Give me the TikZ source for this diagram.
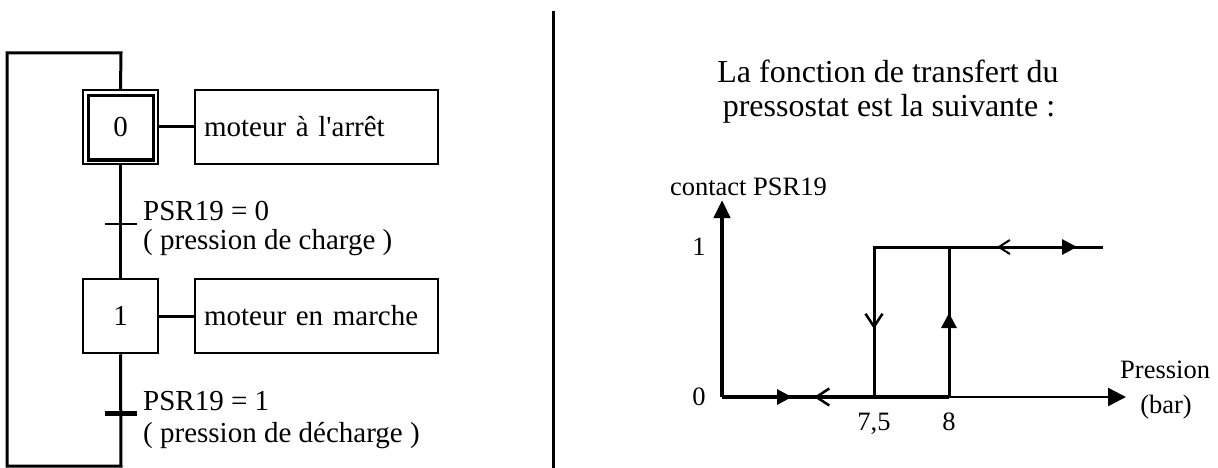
\documentclass[tikz,border=0pt]{standalone}
\usepackage{fontspec}
\setmainfont{Liberation Serif}
\usetikzlibrary{arrows.meta}

\tikzset{
  txt/.style={font=\fontsize{29}{34}\selectfont, inner sep=0pt},
  lbl/.style={font=\fontsize{26.5}{30}\selectfont, inner sep=0pt},
  ttl/.style={font=\fontsize{32}{34}\selectfont, inner sep=0pt, align=center},
  stepbox/.style={draw, line width=2.5pt, minimum width=75pt, minimum height=74pt,
                  inner sep=0pt, font=\fontsize{29}{34}\selectfont},
  actbox/.style={draw, line width=2.5pt, minimum height=74pt, text width=225pt,
                 inner xsep=9pt, align=left, font=\fontsize{29}{34}\selectfont},
  link/.style={line width=3pt},
  thinbar/.style={line width=2.5pt},
  thickbar/.style={line width=5pt},
  axis/.style={line width=4.5pt},
  curve/.style={line width=3pt},
  fullhead/.style={-{Triangle[length=15pt,width=15pt]}},
  openhead/.style={-{Straight Barb[length=13pt,width=17pt,line width=2.5pt]}},
}

\begin{document}
\begin{tikzpicture}[x=1pt,y=-1pt]
\useasboundingbox (0,0) rectangle (1218,468);

% ---------------- Grafcet ----------------
\node[stepbox, line width=2pt] (s0) at (120.5,127) {0};
\draw[line width=3pt] ([shift={(6pt,-7pt)}]s0.north west) rectangle ([shift={(-6pt,5pt)}]s0.south east);
\node[stepbox] (s1) at (120.5,316) {1};

\node[actbox] (a0) at (316.5,127) {moteur à l\textquotesingle arrêt};
\node[actbox] (a1) at (316.5,316) {moteur en marche};

\draw[link] (s0.east) -- (a0.west);
\draw[link] (s1.east) -- (a1.west);

\coordinate (t1) at (121,224);
\coordinate (t2) at (121,413);
\draw[link] (s0.south) -- (s1.north);
\draw[thinbar] ([xshift=-16pt]t1) -- ([xshift=16pt]t1);
\draw[thickbar] ([xshift=-16pt]t2) -- ([xshift=16pt]t2);

\coordinate (lb) at (121,466);
\coordinate (lbl) at (7,466);
\coordinate (ltl) at (7,53);
\coordinate (lt) at (121,53);
\draw[link] (s1.south) -- (lb) -- (lbl) -- (ltl) -- (lt) -- (s0.north);

\node[txt, anchor=base west] (r1a) at (143,220) {PSR19 = 0};
\node[txt, anchor=base west] (r1b) at (143,249) {( pression de charge )};
\node[txt, anchor=base west] (r2a) at (143,410) {PSR19 = 1};
\node[txt, anchor=base west] (r2b) at (143,442) {( pression de décharge )};

% ---------------- separator ----------------
\coordinate (sepT) at (553,11);
\coordinate (sepB) at (553,468);
\draw[line width=3pt] (sepT) -- (sepB);

% ---------------- transfer function ----------------
\node[ttl, anchor=base] (title1) at (888,83) {La fonction de transfert du};
\node[ttl, anchor=base] (title2) at (889,117) {pressostat est la suivante :};

\coordinate (O) at (722,397);
\coordinate (ytip) at (722,200);
\coordinate (xtip) at (1126,397);
\coordinate (A) at (874,397);
\coordinate (B) at (949,397);
\coordinate (C) at (874,247);
\coordinate (D) at (949,247);
\coordinate (E) at (1103,247);

\draw[axis, -{Triangle[length=18pt,width=16pt]}] (O) -- (ytip);
\draw[line width=4pt] (O) -- (B);
\draw[line width=2.5pt, -{Triangle[length=18pt,width=18pt]}] (B) -- (xtip);
\draw[curve] (A) -- (C) -- (E);
\draw[curve] (B) -- (D);

% direction marks along the hysteresis loop
\draw[line width=3pt, fullhead] (775,397) -- (792,397);
\draw[openhead] (830,397) -- (814,397);
\draw[openhead] (874,310) -- (874,329);
\draw[line width=3pt, fullhead] (949,335) -- (949,313);
\draw[-{Straight Barb[length=11pt,width=14pt,line width=2pt]}] (1012,247) -- (997,247);
\draw[line width=3pt, fullhead] (1060,247) -- (1077,247);

\node[lbl, anchor=base east] (ylab) at (827,195) {contact PSR19};
\node[lbl] (l1) at (699,247) {1};
\node[lbl] (l0) at (699,397) {0};
\node[lbl, anchor=base] (l75) at (874,430) {7,5};
\node[lbl, anchor=base] (l8) at (949,430) {8};
\node[lbl, anchor=base west] (xlab) at (1120,378) {Pression};
\node[lbl, anchor=base] (xunit) at (1166,413) {(bar)};
\end{tikzpicture}
\end{document}
